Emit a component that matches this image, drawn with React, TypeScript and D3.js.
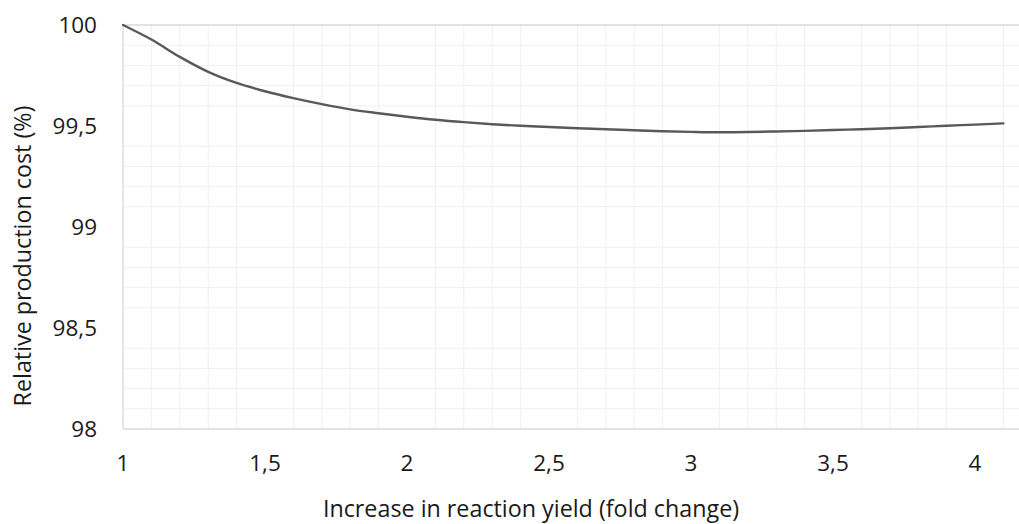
// Relative production cost vs. increase in reaction yield
import React, { useEffect, useRef } from 'react';
import * as d3 from 'd3';

// fold change in reaction yield (x)
const yieldFold = [1.0, 1.1, 1.2, 1.3, 1.4, 1.5, 1.6, 1.7, 1.8, 1.9, 2.0, 2.1, 2.2, 2.3, 2.4, 2.5,
  2.6, 2.7, 2.8, 2.9, 3.0, 3.1, 3.2, 3.3, 3.4, 3.5, 3.6, 3.7, 3.8, 3.9, 4.0, 4.1];
// relative production cost in % (y)
const relCost = [100, 99.928, 99.842, 99.768, 99.713, 99.672, 99.638, 99.608, 99.582, 99.563,
  99.546, 99.531, 99.519, 99.509, 99.501, 99.495, 99.489, 99.484, 99.479, 99.474, 99.471,
  99.469, 99.470, 99.473, 99.476, 99.480, 99.484, 99.489, 99.495, 99.501, 99.507, 99.513];

const xTicks = [1, 1.5, 2, 2.5, 3, 3.5, 4];
const yTicks = [98, 98.5, 99, 99.5, 100];

const xTitle = 'Increase in reaction yield (fold change)';
const yTitle = 'Relative production cost (%)';

const W = 1019;
const H = 524;
const FONT = '"Open Sans", sans-serif';
const fmt = (v: number) => String(v).replace('.', ',');

export default function App() {
  const svgRef = useRef<SVGSVGElement>(null);

  useEffect(() => {
    if (!svgRef.current) return;
    const svg = d3.select(svgRef.current);
    svg.selectAll('*').remove();

    const left = 123;
    const top = 25;
    const bottom = 429;

    const x = d3.scaleLinear().domain([1, 4]).range([left, 975]);
    const y = d3.scaleLinear().domain([98, 100]).range([bottom, top]);
    const right = x(4.2);

    const g = svg.append('g');

    // minor gridlines (every 0.1, skipping the major ones)
    const xMinor = d3.range(11, 42).map(v => v / 10).filter(v => Math.round(v * 10) % 5 !== 0);
    const yMinor = d3.range(981, 1000).map(v => v / 10).filter(v => Math.round(v * 10) % 5 !== 0);

    g.selectAll('.vgrid')
      .data(xMinor)
      .enter()
      .append('line')
      .attr('x1', d => x(d)).attr('x2', d => x(d))
      .attr('y1', top).attr('y2', bottom)
      .attr('stroke', '#f0f0f0')
      .attr('stroke-width', 1);

    g.selectAll('.hgrid')
      .data(yMinor)
      .enter()
      .append('line')
      .attr('x1', left).attr('x2', right)
      .attr('y1', d => y(d)).attr('y2', d => y(d))
      .attr('stroke', '#f0f0f0')
      .attr('stroke-width', 1);

    // plot border / axis lines
    g.append('line')
      .attr('x1', left).attr('x2', right)
      .attr('y1', top).attr('y2', top)
      .attr('stroke', '#d9d9d9').attr('stroke-width', 1.3);
    g.append('line')
      .attr('x1', left).attr('x2', right)
      .attr('y1', bottom).attr('y2', bottom)
      .attr('stroke', '#d9d9d9').attr('stroke-width', 1.3);
    g.append('line')
      .attr('x1', left).attr('x2', left)
      .attr('y1', top).attr('y2', bottom)
      .attr('stroke', '#d9d9d9').attr('stroke-width', 1.3);

    // data line
    const line = d3.line<number>()
      .x((_, i) => x(yieldFold[i]))
      .y(d => y(d))
      .curve(d3.curveCatmullRom);

    g.append('path')
      .datum(relCost)
      .attr('d', line)
      .attr('fill', 'none')
      .attr('stroke', '#595959')
      .attr('stroke-width', 2.4)
      .attr('stroke-linecap', 'round');

    // tick labels
    g.selectAll('.xtick')
      .data(xTicks)
      .enter()
      .append('text')
      .attr('x', d => x(d))
      .attr('y', 471)
      .attr('text-anchor', 'middle')
      .attr('font-family', FONT)
      .attr('font-size', '22.5px')
      .attr('fill', '#1a1a1a')
      .text(d => fmt(d));

    g.selectAll('.ytick')
      .data(yTicks)
      .enter()
      .append('text')
      .attr('x', 97)
      .attr('y', d => y(d))
      .attr('dy', '0.36em')
      .attr('text-anchor', 'end')
      .attr('font-family', FONT)
      .attr('font-size', '22.5px')
      .attr('fill', '#1a1a1a')
      .text(d => fmt(d));

    // axis titles
    g.append('text')
      .attr('x', 531)
      .attr('y', 517)
      .attr('text-anchor', 'middle')
      .attr('font-family', FONT)
      .attr('font-size', '23.3px')
      .attr('fill', '#1a1a1a')
      .text(xTitle);

    g.append('text')
      .attr('transform', 'translate(31,256) rotate(-90)')
      .attr('text-anchor', 'middle')
      .attr('font-family', FONT)
      .attr('font-size', '23.3px')
      .attr('fill', '#1a1a1a')
      .text(yTitle);
  }, []);

  return (
    <svg
      ref={svgRef}
      width={W}
      height={H}
      style={{ position: 'absolute', left: 0, top: 0, background: '#fff' }}
    />
  );
}
